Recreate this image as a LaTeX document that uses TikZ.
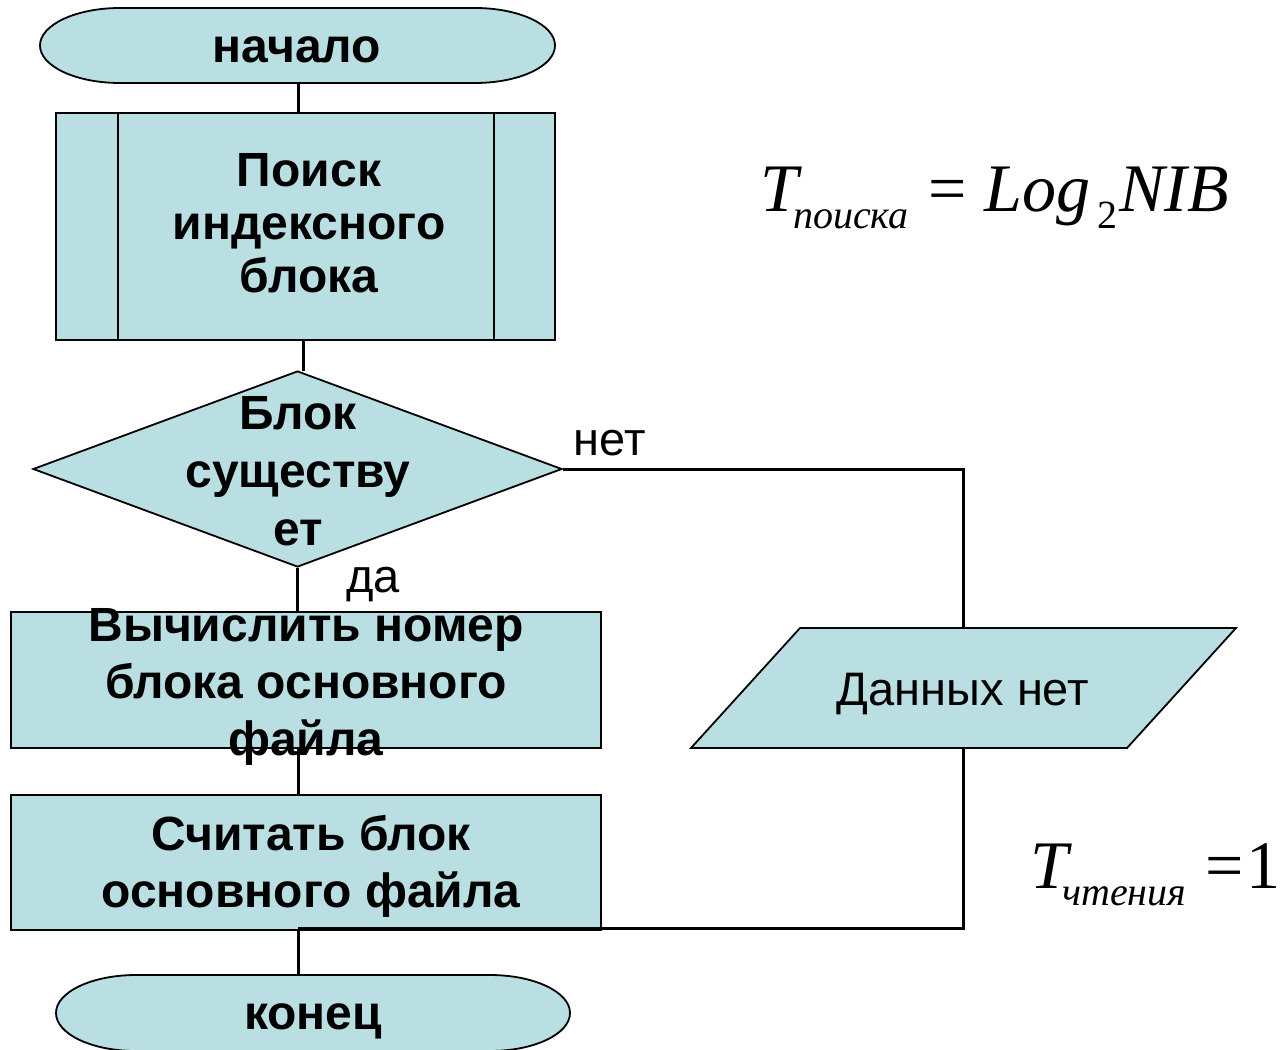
\documentclass[tikz,border=0pt]{standalone}
\usepackage{fontspec}
\setmainfont{Liberation Sans}
\newfontfamily\fserif{Liberation Serif}
\usetikzlibrary{shapes.geometric}
\definecolor{boxfill}{RGB}{185,223,227}
\begin{document}
\begin{tikzpicture}[x=1pt,y=-1pt,
  box/.style={draw=black, line width=1.8pt, fill=boxfill, inner sep=0pt},
  lbl/.style={font=\fontsize{48}{57}\selectfont\bfseries, align=center, inner sep=0pt},
  plain/.style={font=\fontsize{47}{55}\selectfont, inner sep=0pt},
  conn/.style={line width=3pt},
  fmbig/.style={font=\fserif\fontsize{68}{70}\selectfont, anchor=base west, inner sep=0pt},
  fmsub/.style={font=\fserif\fontsize{40}{42}\selectfont, anchor=base west, inner sep=0pt}]
\useasboundingbox (0,0) rectangle (1281,1049);

% start terminal
\draw[box] (120,8) -- (475,8) .. controls (519.2,8) and (555,24.8) .. (555,45.5)
  .. controls (555,66.2) and (519.2,83) .. (475,83) -- (120,83)
  .. controls (75.8,83) and (40,66.2) .. (40,45.5)
  .. controls (40,24.8) and (75.8,8) .. (120,8) -- cycle;
\node[lbl] (start) at (297,50) {начало};
\coordinate (startb) at (298,83);

% predefined process
\node[box, minimum width=499pt, minimum height=227pt] (search) at (305.5,226.5) {};
\draw[line width=1.8pt] ([xshift=63pt]search.north west) -- ([xshift=63pt]search.south west);
\draw[line width=1.8pt] ([xshift=-62pt]search.north east) -- ([xshift=-62pt]search.south east);
\node[lbl, font=\fontsize{48}{53}\selectfont\bfseries] (searcht) at (309,223) {Поиск\\индексного\\блока};

% decision
\node[box, diamond, minimum width=529pt, minimum height=196pt] (dec) at (297.5,469) {};
\node[lbl, font=\fontsize{48}{58}\selectfont\bfseries] (dect) at (298,471) {Блок\\существу\\ет};
\node[plain, anchor=base] (no) at (610,455) {нет};
\node[plain, anchor=base] (yes) at (373,592) {да};

% process 1
\node[box, minimum width=590pt, minimum height=136pt] (r1) at (306,680) {};
\node[lbl] (r1t) at (306,687) {Вычислить номер\\блока основного\\файла};

% process 2
\node[box, minimum width=590pt, minimum height=135pt] (r2) at (306,862.5) {};
\node[lbl] (r2t) at (311,866) {Считать блок\\основного файла};

% data (parallelogram)
\draw[box] (691,748) -- (1127,748) -- (1236,628) -- (800,628) -- cycle;
\node[plain] (data) at (963,694) {Данных нет};
\coordinate (dtop) at (963,628);
\coordinate (dbot) at (963,748);

% end terminal
\draw[box] (136,975) -- (490,975) .. controls (534.2,975) and (570,992) .. (570,1013)
  .. controls (570,1034) and (534.2,1051) .. (490,1051) -- (136,1051)
  .. controls (91.8,1051) and (56,1034) .. (56,1013)
  .. controls (56,992) and (91.8,975) .. (136,975) -- cycle;
\node[lbl] (finish) at (313,1021) {конец};
\coordinate (finisht) at (298,975);

% connectors
\draw[conn] (startb) -- (startb |- search.north);
\draw[conn] (303,340) -- (303,371);
\draw[conn] (dec.south) -- (dec.south |- r1.north);
\draw[conn] (r1.south -| 298,0) -- (298,795);
\draw[conn] (dec.east) -- (dec.east -| dtop) -- (dtop);
\coordinate (join) at (298,928);
\draw[conn] (dbot) -- (dbot |- join) -- (join);
\draw[conn] (298,930) -- (finisht);

% formulas
\node[fmbig, font=\fserif\itshape\fontsize{68}{70}\selectfont] (t1) at (760,211) {T};
\node[fmsub, font=\fserif\itshape\fontsize{40}{42}\selectfont] (t1s) at (793,228) {поиска};
\node[fmbig] (eq1) at (928,211) {=};
\node[fmbig, font=\fserif\itshape\fontsize{68}{70}\selectfont] (log) at (984,211) {Log};
\node[fmsub] (two) at (1097,228) {2};
\node[fmbig, font=\fserif\itshape\fontsize{68}{70}\selectfont] (nib) at (1119,211) {NIB};

\node[fmbig, font=\fserif\itshape\fontsize{68}{70}\selectfont] (t2) at (1030,888) {T};
\node[fmsub, font=\fserif\itshape\fontsize{40}{42}\selectfont] (t2s) at (1062,905) {чтения};
\node[fmbig] (eq2) at (1205,888) {=};
\node[fmbig] (one) at (1246,888) {1};
\end{tikzpicture}
\end{document}
